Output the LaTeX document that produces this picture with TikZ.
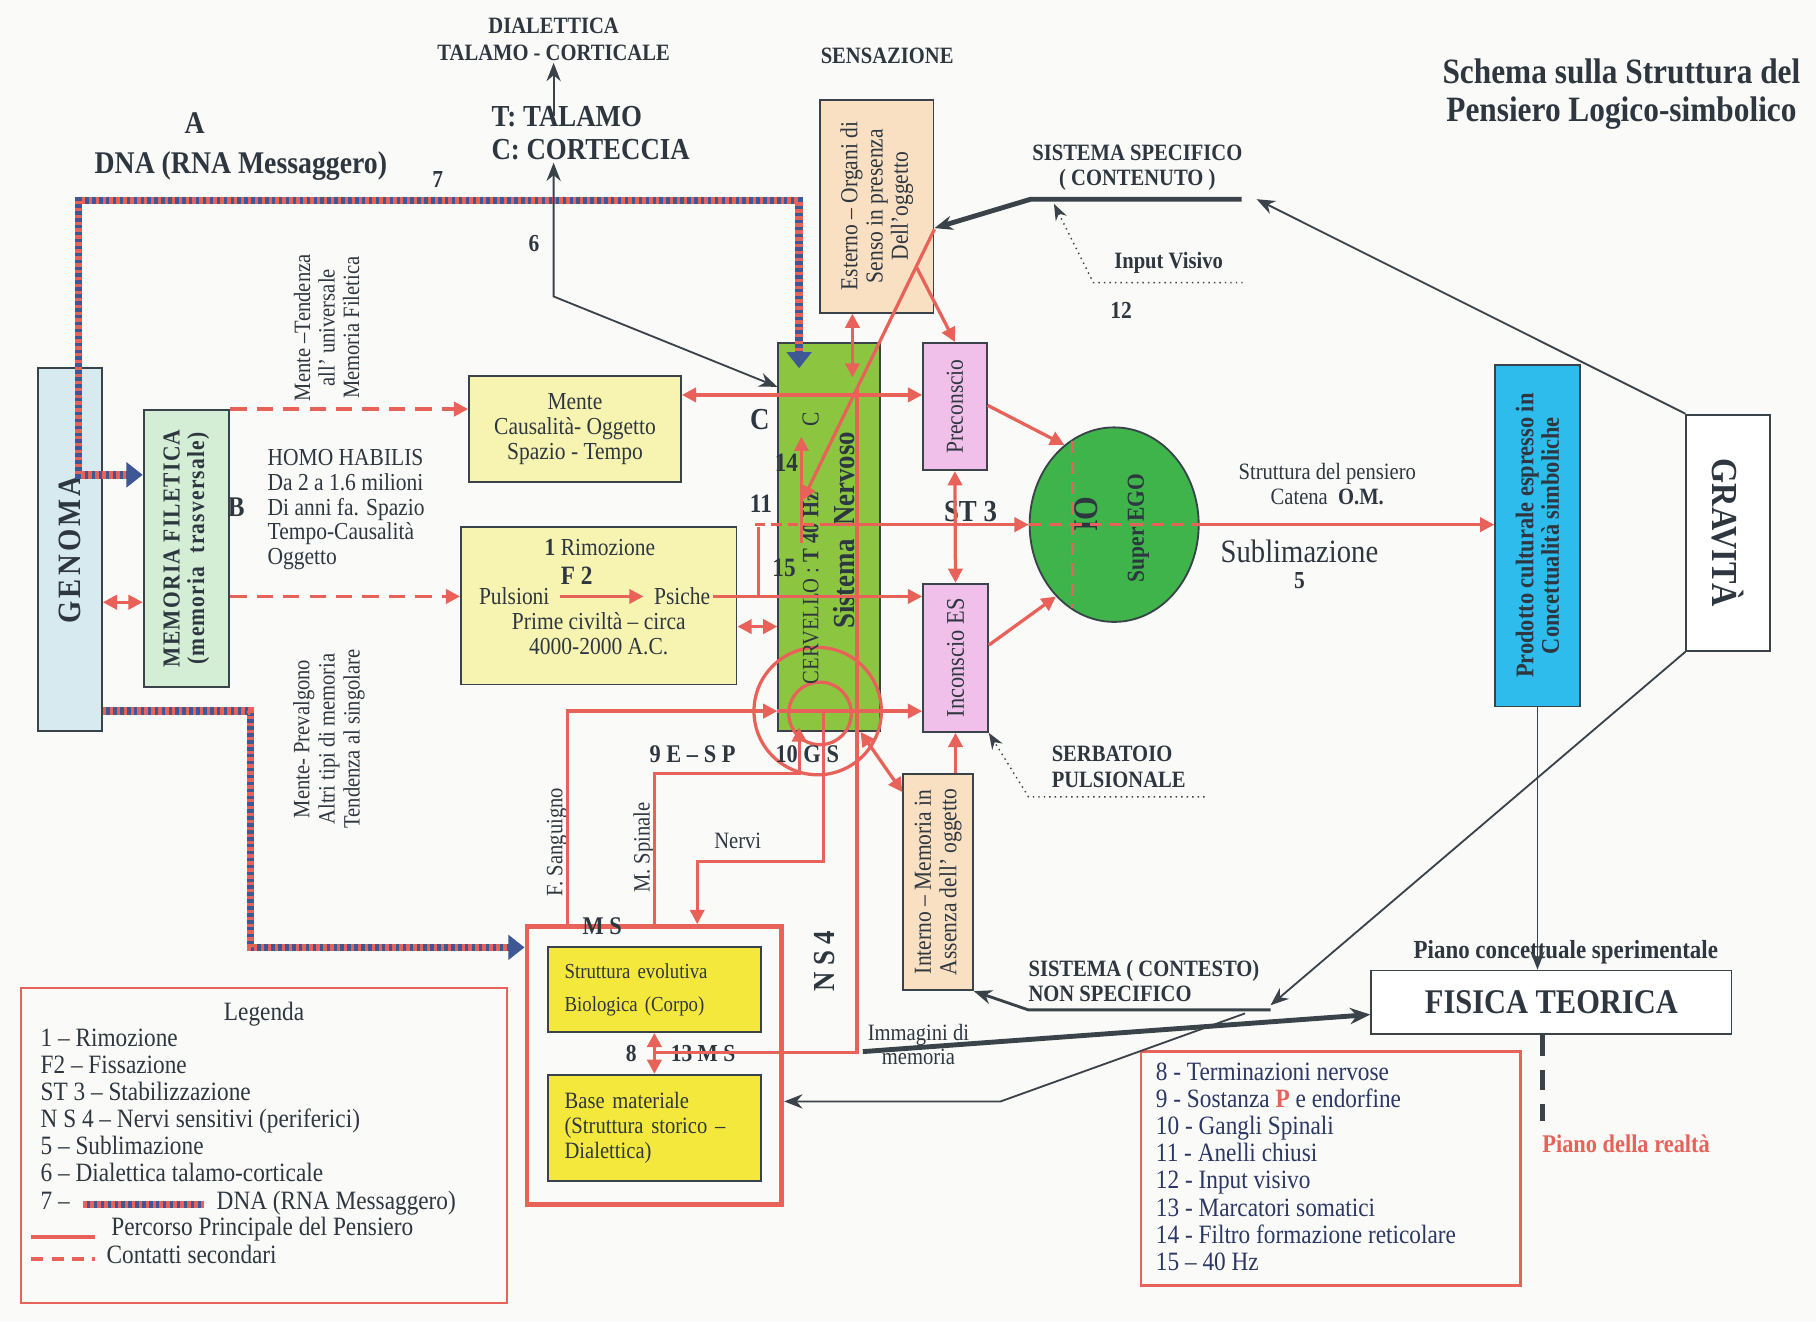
\documentclass[tikz,border=0pt]{standalone}
\usepackage{fontspec}
\setmainfont{Liberation Serif}[FakeStretch=0.88]
\usetikzlibrary{arrows.meta,shapes.geometric}

\definecolor{redl}{RGB}{232,98,90}
\definecolor{dkg}{RGB}{58,66,74}
\definecolor{txt}{RGB}{46,55,64}
\definecolor{navy}{RGB}{43,56,100}
\definecolor{dnablue}{RGB}{62,88,150}
\definecolor{dnared}{RGB}{232,98,90}
\definecolor{genc}{RGB}{214,234,240}
\definecolor{memc}{RGB}{212,238,214}
\definecolor{yell}{RGB}{247,244,178}
\definecolor{yelb}{RGB}{245,232,60}
\definecolor{grn}{RGB}{140,198,64}
\definecolor{egog}{RGB}{62,180,74}
\definecolor{peach}{RGB}{249,224,194}
\definecolor{pink}{RGB}{240,192,234}
\definecolor{cyanb}{RGB}{45,188,235}
\definecolor{bgc}{RGB}{250,250,248}

\newcommand\fsz[2]{\fontsize{#1}{#2}\selectfont}

\tikzset{
  blk/.style={draw=dkg, line width=0.9pt, inner sep=0pt},
  rl/.style={draw=redl, line width=1.6pt},
  rd/.style={draw=redl, line width=1.8pt, dash pattern=on 8pt off 5pt},
  ga/.style={draw=dkg, line width=0.9pt, -{Stealth[length=9pt,width=7pt]}},
  gab/.style={draw=dkg, line width=0.9pt, {Stealth[length=9pt,width=7pt]}-{Stealth[length=9pt,width=7pt]}},
  dnabar/.style={draw=dnablue, line width=3.6pt,
    postaction={draw=dnared, line width=3.6pt, dash pattern=on 1.7pt off 1.7pt}},
  dna/.style={draw=dnablue, line width=3.6pt, -{Triangle[length=8pt,width=12pt]},
    postaction={draw=dnared, line width=3.6pt, dash pattern=on 1.7pt off 1.7pt, -, shorten >=8pt}},
  dnab/.style={draw=dnablue, line width=3.6pt, {Triangle[length=8pt,width=12pt]}-{Triangle[length=8pt,width=12pt]},
    postaction={draw=dnared, line width=3.6pt, dash pattern=on 1.7pt off 1.7pt, -, shorten >=8pt, shorten <=8pt}},
  lbl/.style={text=txt, inner sep=1pt, align=center},
}

\begin{document}
\begin{tikzpicture}[x=0.02cm, y=-0.02cm, >={Triangle[length=7pt,width=7pt]}, every node/.style={text=txt}]
\fill[bgc] (0,0) rectangle (1568,1141);
\useasboundingbox (0,0) rectangle (1568,1141);

% boxes
\node[blk, fill=genc, minimum width=1.1cm, minimum height=6.26cm] (gen) at (60.5,474.5) {};
\node[blk, fill=memc, minimum width=1.48cm, minimum height=4.78cm] (memf) at (161,473.5) {};
\node[blk, fill=yell, minimum width=3.66cm, minimum height=1.82cm, align=center, font=\fsz{12}{12.4}] (mente) at (496.5,370.5) {Mente\\Causalità- Oggetto\\Spazio - Tempo};
\node[blk, fill=yell, minimum width=4.76cm, minimum height=2.72cm] (rimoz) at (517,523) {};
\node[blk, fill=grn, minimum width=1.76cm, minimum height=6.7cm] (sn) at (716,463.5) {};
\node[blk, fill=peach, minimum width=1.96cm, minimum height=3.68cm] (est) at (757,178) {};
\node[blk, fill=pink, minimum width=1.1cm, minimum height=2.2cm] (prec) at (824.5,351) {};
\node[blk, fill=pink, minimum width=1.12cm, minimum height=2.56cm] (ines) at (825,568) {};
\node[blk, fill=peach, minimum width=1.2cm, minimum height=3.74cm] (intm) at (810,761.5) {};
\node[blk, ellipse, fill=egog, minimum width=2.92cm, minimum height=3.36cm] (io) at (962,453) {};
\node[blk, fill=cyanb, minimum width=1.46cm, minimum height=5.9cm] (prod) at (1327.5,462.5) {};
\node[blk, fill=white, minimum width=1.44cm, minimum height=4.08cm] (grav) at (1492,460) {};
\node[blk, fill=white, minimum width=6.22cm, minimum height=1.1cm, font=\fsz{17}{19}\bfseries] (fis) at (1339.5,865.5) {FISICA TEORICA};
\node[draw=redl, line width=2.4pt, minimum width=4.4cm, minimum height=4.8cm] (ms) at (565,920) {};
\node[blk, fill=yelb, minimum width=3.68cm, minimum height=1.46cm, align=left, text width=3.1cm, inner xsep=0.29cm, font=\fsz{10.5}{16}] (sev) at (565,854.5) {Struttura evolutiva\\Biologica (Corpo)};
\node[blk, fill=yelb, minimum width=3.68cm, minimum height=1.84cm, align=left, text width=3.1cm, inner xsep=0.29cm, font=\fsz{11.5}{12.4}] (bmat) at (565,974) {Base materiale\\(Struttura storico --\\Dialettica)};
\node[draw=redl, line width=1.2pt, minimum width=8.4cm, minimum height=5.44cm] (leg1) at (228,989) {};
\node[draw=redl, line width=1.2pt, minimum width=6.56cm, minimum height=4.04cm] (leg2) at (1149,1009) {};
\node[circle, draw=redl, line width=1.6pt, minimum size=2.2cm] (gsbig) at (706,614) {};
\node[circle, draw=redl, line width=1.6pt, minimum size=1.08cm] (gssmall) at (708,616) {};

% texts in boxes
\node[lbl, rotate=90, font=\fsz{16}{18}\bfseries\addfontfeature{LetterSpace=10}] (gent) at (gen) {GENOMA};
\node[lbl, rotate=90, font=\fsz{12}{12}\bfseries\addfontfeature{LetterSpace=5}] (memft) at (memf) {MEMORIA FILETICA\\(memoria~~trasversale)};
\node[lbl, rotate=90, font=\fsz{12}{12.4}] (estt) at (est) {Esterno -- Organi di\\Senso in presenza\\Dell’oggetto};
\node[lbl, rotate=90, font=\fsz{12}{13}] (prect) at (prec) {Preconscio};
\node[lbl, rotate=90, font=\fsz{12.5}{13}] (inest) at (ines) {Inconscio ES};
\node[lbl, rotate=90, font=\fsz{12}{12.6}] (intmt) at (intm) {Interno -- Memoria in\\Assenza dell’ oggetto};
\node[lbl, rotate=90, font=\fsz{12.5}{12.6}\bfseries] (prodt) at (prod) {Prodotto culturale espresso in\\Concettualità simboliche};
\node[lbl, rotate=-90, font=\fsz{18}{20}\bfseries] (gravt) at (grav) {GRAVITÀ};
\node[lbl, rotate=90, font=\fsz{11.5}{13}] (cerv) at (700,508) {CERVELLO : \textbf{T 40 Hz}};
\node[lbl, rotate=90, font=\fsz{12}{13}] (cervc) at (700,362) {C};
\node[lbl, rotate=90, font=\fsz{15}{16}\bfseries] (snt) at (729,458) {Sistema~~Nervoso};
\node[lbl, rotate=90, font=\fsz{17}{18}\bfseries] (iot) at (938,444) {IO};
\node[lbl, rotate=90, font=\fsz{12}{13}\bfseries] (sego) at (983,456) {Super EGO};
\node[lbl, font=\fsz{12}{13}] (rim1) at (518,473) {\textbf{1} Rimozione};
\node[lbl, font=\fsz{13}{14}\bfseries] (f2) at (498,497) {F 2};
\node[lbl, font=\fsz{12}{13}] (puls) at (444,515) {Pulsioni};
\node[lbl, font=\fsz{12}{13}] (psi) at (589,515) {Psiche};
\node[lbl, font=\fsz{12}{12.4}] (prime) at (517,547) {Prime civiltà -- circa\\4000-2000 A.C.};

% free labels
\node[lbl, font=\fsz{11.5}{13}\bfseries] (dial) at (478,34) {DIALETTICA\\TALAMO - CORTICALE};
\node[lbl, align=left, font=\fsz{15}{16.5}\bfseries] (tc) at (510,115) {T: TALAMO\\C: CORTECCIA};
\node[lbl, font=\fsz{11.5}{13}\bfseries] (sens) at (766,48) {SENSAZIONE};
\node[lbl, font=\fsz{17.5}{18.5}\bfseries] (title) at (1400,81) {Schema sulla Struttura del\\Pensiero Logico-simbolico};
\node[lbl, font=\fsz{15.5}{16}\bfseries] (lbla) at (168,106) {A};
\node[lbl, font=\fsz{15.5}{16}\bfseries] (dnal) at (208,143) {DNA (RNA Messaggero)};
\node[lbl, font=\fsz{12}{13}\bfseries] (n7) at (378,155) {7};
\node[lbl, font=\fsz{12}{13}\bfseries] (n6) at (461,210) {6};
\node[lbl, font=\fsz{14}{16}\bfseries] (lblb) at (204,438) {B};
\node[lbl, rotate=90, font=\fsz{11.5}{12}] (mtop) at (282,283) {Mente --Tendenza\\all’ universale\\Memoria Filetica};
\node[lbl, align=left, anchor=west, font=\fsz{12}{12.2}] (homo) at (229,440) {HOMO HABILIS\\Da 2 a 1.6 milioni\\Di anni fa. Spazio\\Tempo-Causalità\\Oggetto};
\node[lbl, rotate=90, font=\fsz{11.5}{12.4}] (mbot) at (284,638) {Mente- Prevalgono\\Altri tipi di memoria\\Tendenza al singolare};
\node[lbl, font=\fsz{15}{16}\bfseries] (lblc) at (656,362) {C};
\node[lbl, font=\fsz{13}{14}\bfseries] (n14) at (679,400) {14};
\node[lbl, font=\fsz{13}{14}\bfseries] (n11) at (657,435) {11};
\node[lbl, font=\fsz{13}{14}\bfseries] (n15) at (677,490) {15};
\node[lbl, font=\fsz{15}{16}\bfseries] (st3) at (838,442) {ST 3};
\node[lbl, font=\fsz{11.5}{12}] (strut) at (1146,418) {Struttura del pensiero\\Catena~~\textbf{O.M.}};
\node[lbl, font=\fsz{16}{18}] (subl) at (1122,476) {Sublimazione};
\node[lbl, font=\fsz{12}{13}\bfseries] (n5) at (1122,501) {5};
\node[lbl, font=\fsz{11.5}{12.5}\bfseries] (ssp) at (982,145) {SISTEMA SPECIFICO\\( CONTENUTO )};
\node[lbl, font=\fsz{11.5}{13}\bfseries] (iv) at (1009,227) {Input Visivo};
\node[lbl, font=\fsz{12}{13}\bfseries] (n12) at (968,268) {12};
\node[lbl, align=left, anchor=west, font=\fsz{11.5}{12.5}\bfseries] (serb) at (906,662) {SERBATOIO\\PULSIONALE};
\node[lbl, align=left, anchor=west, font=\fsz{11.5}{12.5}\bfseries] (snsp) at (886,847) {SISTEMA ( CONTESTO)\\NON SPECIFICO};
\node[lbl, font=\fsz{11.5}{11.5}] (imm) at (793,902) {Immagini di\\memoria};
\node[lbl, font=\fsz{12.5}{13}\bfseries] (n9) at (598,651) {9 E -- S P};
\node[lbl, font=\fsz{12.5}{13}\bfseries] (n10) at (697,651) {10 G S};
\node[lbl, rotate=90, font=\fsz{11.5}{12}] (fsang) at (481,727) {F. Sanguigno};
\node[lbl, rotate=90, font=\fsz{11.5}{12}] (mspin) at (556,732) {M. Spinale};
\node[lbl, font=\fsz{11.5}{12}] (nervi) at (637,726) {Nervi};
\node[lbl, font=\fsz{12.5}{13}\bfseries] (msl) at (520,800) {M S};
\node[lbl, font=\fsz{12}{13}\bfseries] (n8) at (545,910) {8};
\node[lbl, font=\fsz{12}{13}\bfseries] (n13) at (607,910) {13 M S};
\node[lbl, rotate=90, font=\fsz{15}{16}\bfseries] (ns4) at (712,830) {N~S~4};
\node[lbl, font=\fsz{12.8}{13}\bfseries] (pcs) at (1352,822) {Piano concettuale sperimentale};
\node[lbl, text=redl, font=\fsz{12.5}{13}\bfseries] (pdr) at (1404,988) {Piano della realtà};

% legenda
\node[lbl, font=\fsz{13}{14}] (legt) at (228,876) {Legenda};
\foreach \itm [count=\i] in {1 -- Rimozione, F2 -- Fissazione, ST 3 -- Stabilizzazione, N S 4 -- Nervi sensitivi (periferici), 5 -- Sublimazione, 6 -- Dialettica talamo-corticale}
  \node[lbl, anchor=base west, font=\fsz{13}{14}] (leg1-\i) at (33,880.7+23.3*\i) {\itm};
\node[lbl, anchor=base west, font=\fsz{13}{14}] (leg1-7) at (33,1044.5) {7 --};
\node[lbl, anchor=base west, font=\fsz{13}{14}] (leg1-7b) at (185,1044.5) {DNA (RNA Messaggero)};
\draw[dnabar] (72,1040) -- (176,1040);
\draw[rl] (27,1068) -- (82,1068);
\node[lbl, anchor=base west, font=\fsz{13}{14}] (leg1-8) at (94,1067) {Percorso Principale del Pensiero};
\draw[rl, dash pattern=on 6pt off 4pt] (27,1087) -- (82,1087);
\node[lbl, anchor=base west, font=\fsz{13}{14}] (leg1-9) at (90,1091) {Contatti secondari};

\foreach \itm [count=\i] in {8 - Terminazioni nervose, {9 - Sostanza \textcolor{redl}{\textbf{P}} e endorfine}, 10 - Gangli Spinali, 11 - Anelli chiusi, 12 - Input visivo, 13 - Marcatori somatici, 14 - Filtro formazione reticolare, 15 -- 40 Hz}
  \node[lbl, anchor=base west, text=navy, font=\fsz{13}{14}] (leg2-\i) at (996,909.6+23.4*\i) {\itm};

% DNA
\draw[dnab] (memf.west |- 0,410) -| (68,173) -| (690,318);
\draw[dna] (gen.east |- 0,614) -| (216,818) -- (ms.west |- 0,818);

% red paths
\draw[rl,<->] (gen.east |- 0,520) -- (memf.west |- 0,520);
\draw[rd,->] (memf.north east) -- (mente.west |- memf.north east);
\draw[rd,->] (memf.east |- 0,515) -- (rimoz.west |- 0,515);
\draw[rl,<->] (mente.east |- 0,341) -- (prec.west |- 0,341);
\draw[rl,<->] (est.south -| 736,0) -- (736,326);
\draw[rl,->] (est.east |- 0,198) -- (693,432);
\draw[rl,->] (791,230) -- (prec.north);
\draw[rl,->] (692,469) -- (692,377);
\draw[rl] (740,336) |- (sev.south |- 0,909);
\draw[rl, dash pattern=on 5pt off 3pt] (652,453) -- (708,453);
\draw[rl,->] (708,453) -- (io.west);
\draw[rl, dash pattern=on 6pt off 4pt] (io.west) -- (io.east);
\draw[rl, dash pattern=on 6pt off 4pt] (926,381) -- (926,525);
\draw[rl,->] (io.east) -- (prod.west |- io.east);
\draw[rl] (655,455) -- (655,515);
\draw[rl,->, shorten <=4pt, shorten >=4pt] (puls.east) -- (psi.west);
\draw[rl,->] (psi.east) -- (ines.west |- psi.east);
\draw[rl,<->] (rimoz.east |- 0,541) -- (sn.west |- 0,541);
\draw[rl,->] (prec.east |- 0,350) -- (io.122);
\draw[rl,->] (ines.east |- 0,557) -- (io.231);
\draw[rl,<->] (prec.south) -- (ines.north);
\draw[rl,->] (intm.north -| ines.south) -- (ines.south);
\draw[rl,->] (ms.north -| 490,0) |- (sn.west |- 0,614);
\draw[rl,->] (sn.west |- 0,614) -- (ines.west |- 0,614);
\draw[rl,->] (ms.north -| 565,0) |- (690,668) -- (690,628);
\draw[rl,->] (711,614) |- (602,744) -- (ms.north -| 602,0);
\draw[rl,<->] (743,632) -- (intm.west |- 0,684);
\draw[rl,<->] (sev.south) -- (bmat.north);

% grey paths
\draw[ga] (478,100) -- (dial.south -| 478,0);
\draw[gab] (tc.south -| 478,0) -- (478,256) -- (sn.west |- 0,334);
\draw[ga, line width=2.4pt] (1072,172) -- (890,172) -- (est.east |- 0,197);
\draw[dkg, line width=0.7pt, dotted, -{Stealth[length=8pt,width=6pt]}] (1073,244) -- (944,244) -- (910,176);
\draw[ga] (grav.north west) -- (1085,172);
\draw[ga] (grav.south west) -- (1097,868);
\draw[ga, line width=1.4pt] (1097,872) -- (888,872) -- (intm.south east);
\draw[dkg, line width=0.7pt, dotted, -{Stealth[length=8pt,width=6pt]}] (1040,688) -- (888,688) -- (ines.south east);
\draw[dkg, line width=2.4pt, -{Stealth[length=10pt,width=8pt]}] (745,908) -- (fis.west |- 0,876);
\draw[ga] (1075,875) -- (864,951) -- (ms.east |- 0,951);
\draw[ga] (prod.south) -- (fis.north -| prod.south);
\draw[dkg, line width=2.2pt, dash pattern=on 10pt off 7pt] (fis.south -| 1332,0) -- (1332,968);

\end{tikzpicture}
\end{document}
